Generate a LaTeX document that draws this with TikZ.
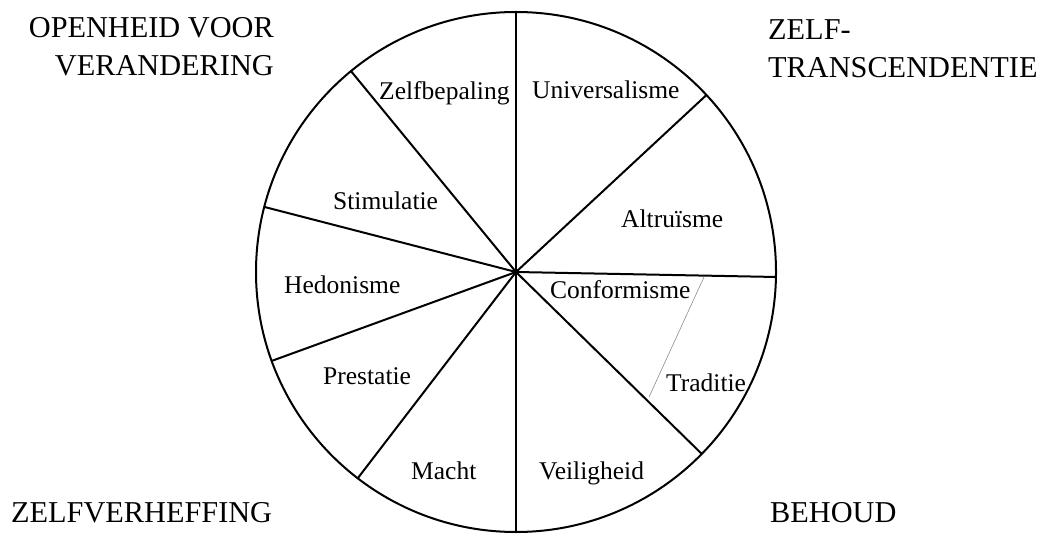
\documentclass[tikz,border=0pt]{standalone}
\usepackage{fontspec}
\setmainfont{Liberation Serif}
\begin{document}
\begin{tikzpicture}[x=1pt,y=1pt,
  rim/.style={line width=2pt},
  spoke/.style={line width=2pt},
  thinsep/.style={line width=0.6pt, draw=black!45},
  seglabel/.style={anchor=base west, inner sep=0pt, font=\fontsize{25.5}{30}\selectfont},
  cornerlabel/.style={inner sep=0pt, font=\fontsize{30.3}{38}\selectfont}]
\useasboundingbox (0,0) rectangle (1048,533);
\coordinate (c) at (516,261);
% rim points
\coordinate (top) at ([shift={(90:260)}]c);
\coordinate (bot) at ([shift={(270:260)}]c);
\coordinate (r1) at ([shift={(129.4:260)}]c);
\coordinate (r2) at ([shift={(165.5:260)}]c);
\coordinate (r3) at ([shift={(200:260)}]c);
\coordinate (r4) at ([shift={(232.5:260)}]c);
\coordinate (r5) at ([shift={(42.9:260)}]c);
\coordinate (r6) at ([shift={(-1.1:260)}]c);
\coordinate (r7) at ([shift={(-44.4:260)}]c);
\coordinate (t1) at (704,256);
\coordinate (t2) at (649,136);
% circle and spokes
\draw[rim] (c) circle (260);
\draw[spoke] (top) -- (bot);
\foreach \r in {r1,r2,r3,r4,r5,r6,r7} \draw[spoke] (c) -- (\r);
\draw[thinsep] (t1) -- (t2);
% segment labels
\node[seglabel] (zelfbepaling) at (379,433) {Zelfbepaling};
\node[seglabel] (universalisme) at (532,434) {Universalisme};
\node[seglabel] (stimulatie) at (333,323) {Stimulatie};
\node[seglabel] (altruisme) at (621,305) {Altruïsme};
\node[seglabel] (hedonisme) at (284,239) {Hedonisme};
\node[seglabel] (conformisme) at (550,234) {Conformisme};
\node[seglabel] (prestatie) at (323,149) {Prestatie};
\node[seglabel] (traditie) at (666,142) {Traditie};
\node[seglabel] (macht) at (411,54) {Macht};
\node[seglabel] (veiligheid) at (539,54) {Veiligheid};
% corner labels
\node[cornerlabel, anchor=north east, align=right] (openheid) at (274,516) {OPENHEID VOOR\\VERANDERING};
\node[cornerlabel, anchor=north west, align=left] (zelftrans) at (768,514) {ZELF-\\TRANSCENDENTIE};
\node[cornerlabel, anchor=base west] (zelfverheffing) at (11,11) {ZELFVERHEFFING};
\node[cornerlabel, anchor=base west] (behoud) at (770,11) {BEHOUD};
\end{tikzpicture}
\end{document}
